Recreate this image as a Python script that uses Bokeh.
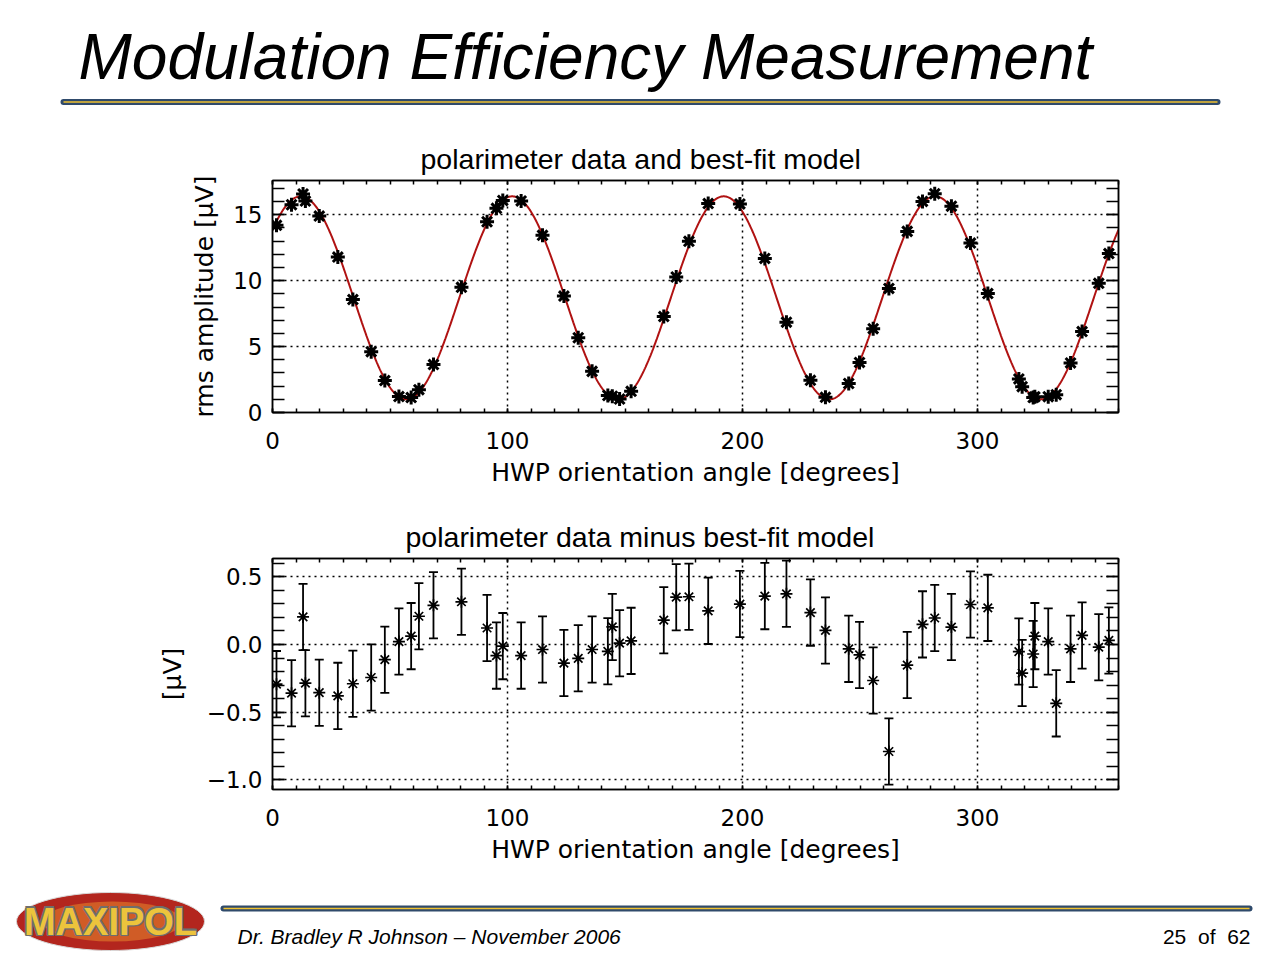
import numpy as np
from bokeh.plotting import figure
from bokeh.models import (Range1d, LinearAxis, FixedTicker, CustomJSTickFormatter,
                          Whisker, TeeHead, ColumnDataSource)
from bokeh.layouts import column
from bokeh.embed import file_html
from bokeh.resources import INLINE
from bokeh.core.properties import value

# ---------------- data ----------------
hwp_angle = [1.7, 8.1, 13.0, 14.0, 19.9, 27.8, 34.2, 42.0, 47.8, 53.8,
             59.0, 62.3, 68.5, 80.4, 91.3, 95.3, 98.0, 105.8, 114.9, 124.0,
             130.1, 136.0, 142.7, 144.6, 147.7, 152.6, 166.5, 171.8, 177.2, 185.4,
             198.9, 209.5, 218.7, 228.9, 235.3, 245.2, 249.8, 255.6, 262.3, 270.1,
             276.6, 281.8, 288.9, 297.0, 304.4, 317.6, 319.0, 323.7, 324.4, 330.1,
             333.5, 339.6, 344.5, 351.6, 355.9]
rms_amplitude = [14.20, 15.76, 16.58, 16.04, 14.90, 11.79, 8.57, 4.61, 2.42, 1.21,
                 1.13, 1.73, 3.64, 9.50, 14.47, 15.49, 16.09, 16.05, 13.44, 8.83,
                 5.67, 3.12, 1.29, 1.24, 1.02, 1.61, 7.28, 10.28, 12.99, 15.85,
                 15.82, 11.69, 6.85, 2.44, 1.15, 2.20, 3.80, 6.36, 9.41, 13.74,
                 16.01, 16.60, 15.65, 12.85, 9.02, 2.55, 1.96, 1.13, 1.19, 1.20,
                 1.35, 3.76, 6.14, 9.80, 12.06]
residual = [-0.293, -0.36, 0.204, -0.286, -0.356, -0.38, -0.29, -0.244, -0.112, 0.022,
            0.062, 0.209, 0.29, 0.316, 0.122, -0.082, -0.012, -0.082, -0.037, -0.137,
            -0.102, -0.037, -0.05, 0.13, 0.01, 0.027, 0.18, 0.35, 0.353, 0.249,
            0.299, 0.358, 0.375, 0.236, 0.104, -0.032, -0.077, -0.266, -0.791, -0.152,
            0.149, 0.196, 0.129, 0.296, 0.271, -0.052, -0.211, -0.07, 0.062, 0.022,
            -0.435, -0.032, 0.067, -0.02, 0.03]
residual_err = 0.245

# best-fit model parameters: offset + amp * cos(4 (theta - phase))
fit_offset = 8.7
fit_amp = 7.7
fit_phase = 12.0
fit_harmonic = 4

x_major = [0, 100, 200, 300]
y1_major = [0, 5, 10, 15]
y2_major = [-1.0, -0.5, 0.0, 0.5]

SLIDE_TITLE = "Modulation Efficiency Measurement"
TITLE1 = "polarimeter data and best-fit model"
TITLE2 = "polarimeter data minus best-fit model"
XLABEL = "HWP orientation angle [degrees]"
YLABEL1 = "rms amplitude [\u03bcV]"
YLABEL2 = "[\u03bcV]"
FOOTER_LEFT = "Dr. Bradley R Johnson \u2013 November 2006"
FOOTER_RIGHT = "25\u00a0\u00a0of\u00a0\u00a062"
LOGO_TEXT = "MAXIPOL"

# ---------------- styling ----------------
W = 1276
FRAME_L = 272
FRAME_W = 846
SANS = "Liberation Sans"
IDL = "DejaVu Sans"
NAVY = "#2f4a6b"
GOLD = "#f0c230"
RED = "#b01212"

theta = np.linspace(0, 360, 1441)
model = fit_offset + fit_amp * np.cos(np.radians(fit_harmonic * (theta - fit_phase)))


def make_plot(height, top, frame_h, yr, ymajor, yminor, title, title_offset, ylabel,
              ystand, yfmt=None):
    p = figure(width=W, height=height, x_range=Range1d(0, 360), y_range=yr,
               toolbar_location=None, output_backend="svg",
               min_border_left=FRAME_L, min_border_right=W - FRAME_L - FRAME_W,
               min_border_top=top, min_border_bottom=height - top - frame_h,
               background_fill_color="white", border_fill_color="white")
    p.outline_line_color = "black"
    p.outline_line_width = 1.5
    p.title.text = title
    p.title.text_font = SANS
    p.title.text_font_size = "28.5px"
    p.title.text_font_style = "normal"
    p.title.text_color = "black"
    p.title.align = "left"
    p.title.offset = title_offset
    p.title.standoff = 12

    xt = FixedTicker(ticks=x_major, minor_ticks=list(range(0, 361, 10)))
    yt = FixedTicker(ticks=ymajor, minor_ticks=yminor)
    blank = CustomJSTickFormatter(code="return ''")

    top_ax = LinearAxis(ticker=xt, formatter=blank, major_label_text_font_size="0px",
                        major_label_standoff=0)
    right_ax = LinearAxis(ticker=yt, formatter=blank, major_label_text_font_size="0px",
                          major_label_standoff=0)
    p.add_layout(top_ax, "above")
    p.add_layout(right_ax, "right")

    for ax in p.xaxis:
        ax.ticker = xt
        ax.major_tick_in = 4
        ax.major_tick_out = 0
        ax.minor_tick_in = 4
        ax.minor_tick_out = 0
    for ax in p.yaxis:
        ax.ticker = yt
        ax.major_tick_in = 12
        ax.major_tick_out = 0
        ax.minor_tick_in = 12
        ax.minor_tick_out = 0
    for ax in list(p.xaxis) + list(p.yaxis):
        ax.axis_line_color = "black"
        ax.axis_line_width = 1.5
        ax.major_tick_line_color = "black"
        ax.minor_tick_line_color = "black"
        ax.major_tick_line_width = 1.5
        ax.minor_tick_line_width = 1.5
        ax.major_label_text_font = IDL
        ax.major_label_text_color = "black"
    bx = p.below[0]
    bx.major_label_text_font_size = "23px"
    bx.major_label_standoff = 19
    bx.axis_label = XLABEL
    bx.axis_label_text_font = IDL
    bx.axis_label_text_font_size = "25px"
    bx.axis_label_text_font_style = "normal"
    bx.axis_label_text_color = "black"
    bx.axis_label_standoff = 6
    ly = p.left[0]
    ly.major_label_text_font_size = "23px"
    ly.major_label_standoff = 10
    ly.axis_label = ylabel
    ly.axis_label_text_font = IDL
    ly.axis_label_text_font_size = "25px"
    ly.axis_label_text_font_style = "normal"
    ly.axis_label_text_color = "black"
    ly.axis_label_standoff = ystand
    if yfmt is not None:
        ly.formatter = yfmt

    p.xgrid.ticker = FixedTicker(ticks=[t for t in x_major if t > 0])
    p.ygrid.ticker = FixedTicker(ticks=ymajor)
    p.grid.grid_line_color = "black"
    p.grid.grid_line_dash = "2 4"
    p.grid.grid_line_width = 1.5
    return p


# ---------------- header ----------------
hdr = figure(width=W, height=130, x_range=Range1d(0, W), y_range=Range1d(130, 0),
             toolbar_location=None, output_backend="svg", x_axis_location=None,
             y_axis_location=None, min_border=0, outline_line_color=None,
             frame_align=False)
hdr.grid.visible = False
hdr.text(x=[78], y=[56], text=[SLIDE_TITLE], text_font=value(SANS), text_font_size="64px",
         text_font_style="italic", text_baseline="middle", text_color="black")
hdr.segment(x0=[63], y0=[101.5], x1=[1217], y1=[101.5], line_width=6, line_color=NAVY,
            line_cap="round")
hdr.segment(x0=[63], y0=[101.5], x1=[1217], y1=[101.5], line_width=1.6, line_color=GOLD)

# ---------------- top plot ----------------
p1 = make_plot(375, 50, 232, Range1d(0, 17.6), y1_major, list(range(0, 18)), TITLE1, 148,
               YLABEL1, 11)
p1.line(theta, model, line_color=RED, line_width=2)
p1.scatter(hwp_angle, rms_amplitude, marker="asterisk", size=14, line_width=3,
           line_color="black")

# ---------------- bottom plot ----------------
fmt2 = CustomJSTickFormatter(code="return (tick < 0 ? '\\u2212' : '') + Math.abs(tick).toFixed(1);")
minor2 = [round(v, 2) for v in np.arange(-1.0, 0.65, 0.1)]
p2 = make_plot(380, 53, 231, Range1d(-1.072, 0.636), y2_major, minor2, TITLE2, 133,
               YLABEL2, 17, fmt2)
src = ColumnDataSource(dict(x=hwp_angle, y=residual,
                            lo=[r - residual_err for r in residual],
                            hi=[r + residual_err for r in residual]))
wh = Whisker(source=src, base="x", lower="lo", upper="hi", dimension="height",
             line_color="black", line_width=1.8,
             lower_head=TeeHead(size=9, line_width=1.8, line_color="black"),
             upper_head=TeeHead(size=9, line_width=1.8, line_color="black"))
p2.add_layout(wh)
p2.scatter("x", "y", source=src, marker="asterisk", size=12, line_width=1.7,
           line_color="black")

# ---------------- footer ----------------
ftr = figure(width=W, height=73, x_range=Range1d(0, W), y_range=Range1d(958, 885),
             toolbar_location=None, output_backend="svg", x_axis_location=None,
             y_axis_location=None, min_border=0, outline_line_color=None,
             frame_align=False)
ftr.grid.visible = False
ftr.segment(x0=[223], y0=[908], x1=[1249], y1=[908], line_width=6, line_color=NAVY,
            line_cap="round")
ftr.segment(x0=[223], y0=[908], x1=[1249], y1=[908], line_width=1.6, line_color=GOLD)
ftr.text(x=[237], y=[936], text=[FOOTER_LEFT], text_font=value(SANS), text_font_size="21px",
         text_font_style="italic", text_baseline="middle", text_color="black")
ftr.text(x=[1250], y=[936], text=[FOOTER_RIGHT], text_font=value(SANS), text_font_size="21px",
         text_baseline="middle", text_align="right", text_color="black")
# logo
ftr.ellipse(x=[110], y=[921], width=188, height=58, fill_color="#b3261e", line_color="#d9d9d9",
            line_width=1)
ftr.ellipse(x=[112], y=[921], width=140, height=40, fill_color="#e8892e", fill_alpha=0.55,
            line_color=None)
for dx, dy in [(-1.5, 0), (1.5, 0), (0, -1.5), (0, 1.5), (1.2, 1.2), (-1.2, -1.2),
               (1.2, -1.2), (-1.2, 1.2)]:
    ftr.text(x=[110], y=[921], text=[LOGO_TEXT], x_offset=dx, y_offset=dy,
             text_font=value(SANS), text_font_size="38px", text_font_style="bold",
             text_align="center", text_baseline="middle", text_color="#6e6e6e")
ftr.text(x=[110], y=[921], text=[LOGO_TEXT], text_font=value(SANS), text_font_size="38px",
         text_font_style="bold", text_align="center", text_baseline="middle",
         text_color="#ecc43c")

layout = column(hdr, p1, p2, ftr, spacing=0)
open("out.html", "w").write(file_html(layout, INLINE))
